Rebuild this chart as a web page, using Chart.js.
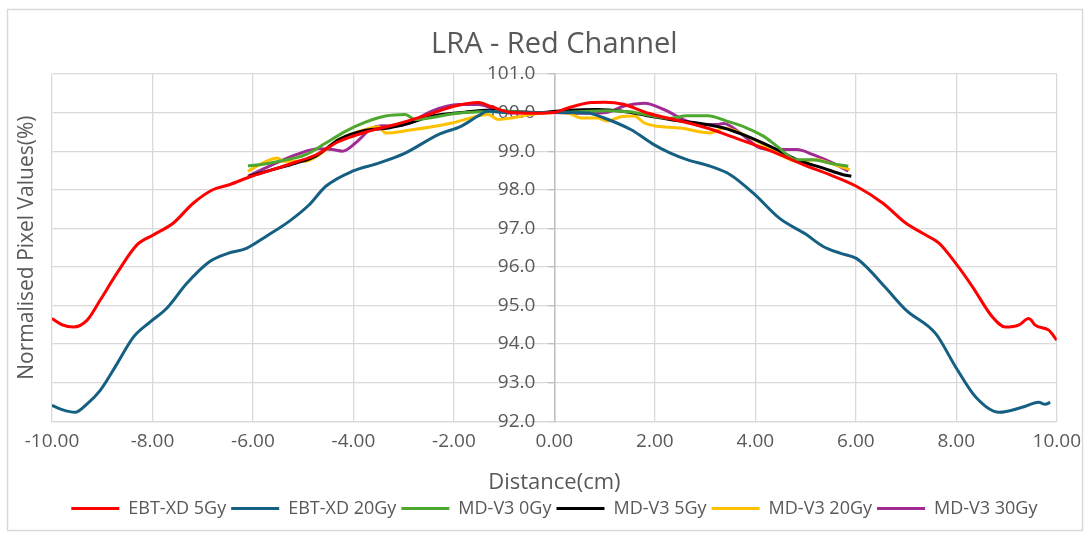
<!DOCTYPE html>
<html>
<head>
<meta charset="utf-8">
<script src="https://cdn.jsdelivr.net/npm/chart.js@4.4.1/dist/chart.umd.min.js"></script>
<style>
html,body{margin:0;padding:0;background:#fff;}
canvas{display:block;}
</style>
</head>
<body>
<canvas id="c" width="1090" height="533"></canvas>
<script>
// ---- data ----
const seriesNames = ["EBT-XD 5Gy", "EBT-XD 20Gy", "MD-V3 0Gy", "MD-V3 5Gy", "MD-V3 20Gy", "MD-V3 30Gy"];

const ebt5X = [-10, -9.8, -9.57, -9.3, -9.04, -8.71, -8.31, -7.98, -7.59, -7.19, -6.8, -6.47, -6.07, -5.61, -5.14, -4.75, -4.29, -3.69, -3.16, -2.5, -1.98, -1.51, -1.25, -0.86, -0.4, 0, 0.27, 0.73, 1.0, 1.39, 1.85, 2.51, 3.04, 3.5, 4.16, 4.56, 4.95, 5.48, 6.01, 6.54, 7.0, 7.33, 7.66, 7.99, 8.32, 8.72, 8.98, 9.24, 9.44, 9.49, 9.57, 9.84, 10.0];
const ebt5Y = [94.66, 94.5, 94.44, 94.62, 95.14, 95.83, 96.57, 96.83, 97.13, 97.65, 98.0, 98.13, 98.33, 98.52, 98.72, 98.9, 99.25, 99.52, 99.69, 99.95, 100.17, 100.26, 100.15, 100.0, 99.98, 100.0, 100.12, 100.26, 100.27, 100.21, 99.99, 99.78, 99.6, 99.39, 99.08, 98.87, 98.65, 98.39, 98.09, 97.65, 97.13, 96.87, 96.61, 96.09, 95.49, 94.7, 94.44, 94.49, 94.66, 94.62, 94.49, 94.36, 94.1];

const ebt20X = [-10, -9.8, -9.54, -9.3, -9.04, -8.7, -8.38, -8.05, -7.72, -7.32, -6.86, -6.5, -6.13, -5.74, -5.28, -4.88, -4.55, -4.02, -3.5, -2.97, -2.31, -1.85, -1.52, -1.32, -1.0, -0.5, 0, 0.66, 0.99, 1.52, 1.98, 2.31, 2.64, 3.1, 3.5, 3.96, 4.49, 5.0, 5.35, 5.7, 6.01, 6.21, 6.6, 7.0, 7.59, 7.99, 8.39, 8.85, 9.31, 9.64, 9.77, 9.87];
const ebt20Y = [92.41, 92.3, 92.23, 92.45, 92.8, 93.5, 94.18, 94.57, 94.92, 95.57, 96.14, 96.35, 96.48, 96.79, 97.18, 97.61, 98.09, 98.48, 98.69, 98.95, 99.43, 99.65, 99.91, 100.04, 100.0, 100.0, 100.0, 99.99, 99.86, 99.56, 99.17, 98.95, 98.78, 98.61, 98.39, 97.91, 97.25, 96.85, 96.53, 96.35, 96.22, 96.0, 95.45, 94.88, 94.27, 93.4, 92.62, 92.23, 92.36, 92.49, 92.44, 92.49];

const md0X = [-6.1, -5.87, -5.48, -4.95, -4.55, -4.15, -3.76, -3.36, -2.97, -2.77, -2.5, -2.0, -1.5, -1.0, -0.5, 0, 0.5, 1.0, 1.5, 2.0, 2.3, 2.64, 3.04, 3.5, 3.83, 4.16, 4.43, 4.82, 5.15, 5.48, 5.85];
const md0Y = [98.62, 98.65, 98.74, 98.91, 99.21, 99.52, 99.75, 99.91, 99.95, 99.82, 99.86, 99.97, 100.02, 100.03, 100.0, 100.0, 100.02, 100.05, 100.02, 99.9, 99.85, 99.92, 99.92, 99.75, 99.6, 99.39, 99.13, 98.78, 98.78, 98.69, 98.61];

const md5X = [-6.07, -5.61, -5.14, -4.75, -4.29, -3.76, -3.3, -2.9, -2.44, -1.78, -1.32, -0.8, -0.3, 0.27, 0.86, 1.32, 1.85, 2.51, 2.84, 3.37, 3.83, 4.43, 4.82, 5.35, 5.75, 5.91];
const md5Y = [98.35, 98.52, 98.69, 98.87, 99.3, 99.54, 99.6, 99.72, 99.91, 100.01, 100.06, 100.02, 100.0, 100.06, 100.08, 100.04, 99.92, 99.78, 99.73, 99.6, 99.39, 99.04, 98.78, 98.56, 98.39, 98.35];

const md20X = [-6.1, -5.81, -5.51, -5.41, -4.95, -4.68, -4.29, -3.76, -3.5, -3.36, -2.9, -2.04, -1.78, -1.32, -1.12, -0.8, -0.47, 0, 0.27, 0.53, 0.86, 1.06, 1.32, 1.59, 1.79, 1.98, 2.51, 3.1, 3.37, 3.83, 4.16, 4.49, 4.82, 5.22, 5.48, 5.88];
const md20Y = [98.48, 98.69, 98.82, 98.74, 98.74, 98.91, 99.3, 99.56, 99.63, 99.47, 99.54, 99.73, 99.82, 99.95, 99.82, 99.87, 99.95, 100.0, 99.99, 99.86, 99.86, 99.78, 99.89, 99.91, 99.73, 99.66, 99.6, 99.47, 99.6, 99.39, 99.17, 98.91, 98.74, 98.78, 98.69, 98.52];

const md30X = [-6.1, -5.61, -5.14, -4.68, -4.42, -4.22, -3.96, -3.63, -3.43, -3.16, -2.9, -2.44, -1.91, -1.51, -1.25, -0.86, -0.47, 0, 0.53, 1.06, 1.39, 1.79, 2.18, 2.64, 2.97, 3.24, 3.37, 3.7, 4.1, 4.43, 4.82, 5.15, 5.61, 5.85];
const md30Y = [98.35, 98.65, 98.91, 99.06, 99.04, 99.0, 99.21, 99.6, 99.66, 99.65, 99.72, 100.04, 100.21, 100.21, 100.12, 99.99, 100.0, 100.0, 99.98, 100.01, 100.17, 100.24, 100.08, 99.78, 99.69, 99.69, 99.72, 99.47, 99.08, 99.04, 99.04, 98.91, 98.65, 98.48];

const xTicks = [-10, -8, -6, -4, -2, 0, 2, 4, 6, 8, 10];
const yTicks = [92, 93, 94, 95, 96, 97, 98, 99, 100, 101];

// ---- styling ----
const colors = ["#FF0000", "#156082", "#4EA72E", "#000000", "#FFC000", "#A02B93"];
const xs = [ebt5X, ebt20X, md0X, md5X, md20X, md30X];
const ys = [ebt5Y, ebt20Y, md0Y, md5Y, md20Y, md30Y];
const FONT = "'Open Sans', 'Noto Sans', sans-serif";
const TXT = "#595959";

const datasets = seriesNames.map((name, i) => ({
  label: name,
  data: xs[i].map((x, j) => ({x: x, y: ys[i][j]})),
  borderColor: colors[i],
  backgroundColor: colors[i],
  borderWidth: 3,
  pointRadius: 0,
  cubicInterpolationMode: 'monotone',
  fill: false
}));

const frame = {
  id: 'frame',
  beforeDraw(chart) {
    const c = chart.ctx;
    c.save();
    c.fillStyle = '#fff';
    c.fillRect(0, 0, chart.width, chart.height);
    c.strokeStyle = '#d9d9d9';
    c.lineWidth = 1.5;
    c.strokeRect(7.5, 9.5, 1075, 521);
    c.restore();
  }
};

// place the value axis on x = 0 (crossing axis)
const crossAxis = {
  id: 'crossAxis',
  afterLayout(chart) {
    const s = chart.scales.y;
    const px = chart.scales.x.getPixelForValue(0);
    s.right = px;
    s.left = px - 80;
    s.width = 80;
  }
};

new Chart(document.getElementById('c'), {
  type: 'line',
  data: { datasets },
  plugins: [frame, crossAxis],
  options: {
    responsive: false,
    animation: false,
    layout: { padding: { left: 0, right: 28, top: 0, bottom: 5.5 } },
    plugins: {
      title: {
        display: true,
        fullSize: false,
        text: 'LRA - Red Channel',
        color: TXT,
        font: { family: FONT, size: 29, weight: 'normal', lineHeight: 1.2 },
        padding: { top: 27.6, bottom: 11.6 }
      },
      legend: {
        position: 'bottom',
        fullSize: false,
        labels: {
          color: TXT,
          font: { family: FONT, size: 18 },
          usePointStyle: true,
          pointStyle: 'line',
          pointStyleWidth: 48,
          padding: 5
        }
      },
      tooltip: { enabled: false }
    },
    scales: {
      x: {
        type: 'linear',
        position: 'bottom',
        min: -10,
        max: 10,
        afterBuildTicks: s => { s.ticks = xTicks.map(v => ({value: v})); },
        ticks: {
          color: TXT,
          font: { family: FONT, size: 19 },
          padding: 9,
          maxRotation: 0,
          autoSkip: false,
          callback: v => Number(v).toFixed(2)
        },
        grid: { color: '#d9d9d9', lineWidth: 1.3, drawTicks: false },
        border: { color: '#d9d9d9', width: 1.3 },
        title: {
          display: true,
          text: 'Distance(cm)',
          color: TXT,
          font: { family: FONT, size: 22 },
          padding: { top: 7.2, bottom: -1.1 }
        }
      },
      yl: {
        type: 'linear',
        position: 'left',
        weight: 10,
        min: 92,
        max: 101,
        ticks: { display: false },
        grid: { display: false },
        border: { display: false },
        afterFit: s => { s.width = 52; },
        title: {
          display: true,
          text: 'Normalised Pixel Values(%)',
          color: TXT,
          font: { family: FONT, size: 21 },
          padding: { top: 14, bottom: 0 }
        }
      },
      y: {
        type: 'linear',
        position: 'left',
        weight: 0,
        min: 92,
        max: 101,
        afterBuildTicks: s => { s.ticks = yTicks.map(v => ({value: v})); },
        afterFit: s => { s.width = 0; },
        ticks: {
          color: TXT,
          font: { family: FONT, size: 19 },
          padding: 13,
          callback: v => Number(v).toFixed(1)
        },
        grid: { color: '#d9d9d9', lineWidth: 1.3, tickLength: 6, tickColor: '#bfbfbf' },
        border: { color: '#bfbfbf', width: 1.5 }
      }
    }
  }
});
</script>
</body>
</html>
